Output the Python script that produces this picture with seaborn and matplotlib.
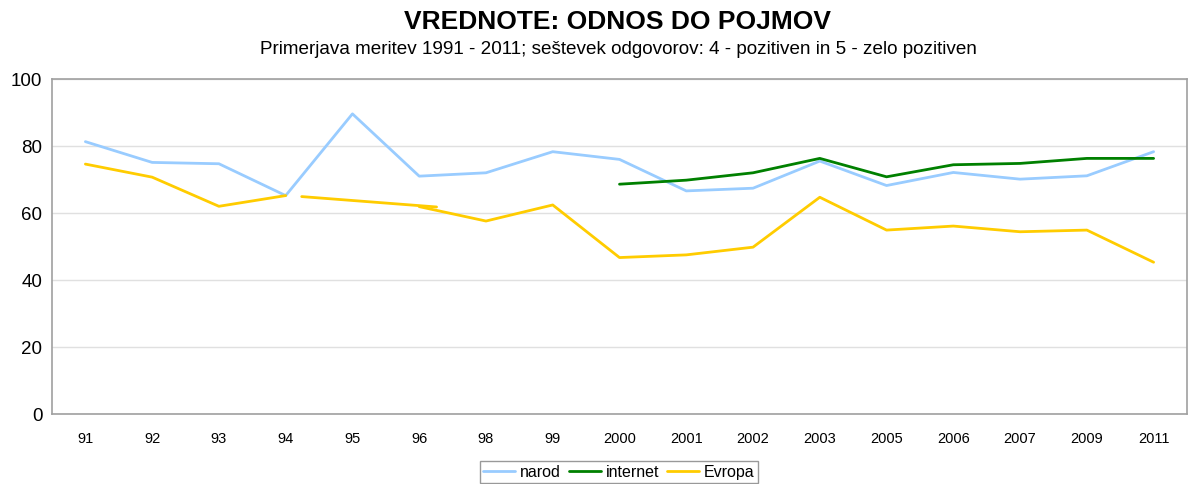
import numpy as np
import pandas as pd
import matplotlib
matplotlib.use("Agg")
import matplotlib.pyplot as plt
import seaborn as sns
from matplotlib.lines import Line2D

# data
years = ["91", "92", "93", "94", "95", "96", "98", "99", "2000", "2001",
         "2002", "2003", "2005", "2006", "2007", "2009", "2011"]
narod = [81.3, 75.1, 74.7, 65.2, 89.6, 71.0, 72.0, 78.3, 76.0, 66.6,
         67.4, 75.5, 68.2, 72.1, 70.1, 71.1, 78.3]
internet = [np.nan] * 8 + [68.6, 69.8, 72.0, 76.3, 70.8, 74.4, 74.8, 76.3, 76.3]
evropa = [74.6, 70.7, 62.0, 65.2, np.nan, 61.9, 57.6, 62.4, 46.7, 47.5,
          49.8, 64.7, 54.9, 56.1, 54.4, 54.9, 45.3]
# loose drawn segment over the 95 gap
bridge_x = [3.24, 5.26]
bridge_y = [64.9, 61.8]

series = {"narod": (narod, "#99ccff"),
          "internet": (internet, "#008000"),
          "Evropa": (evropa, "#ffcc00")}

sns.set_theme(style="white")
plt.rcParams["font.family"] = ["Liberation Sans", "DejaVu Sans"]
plt.rcParams["text.color"] = "black"
plt.rcParams["xtick.color"] = "black"
plt.rcParams["ytick.color"] = "black"

fig = plt.figure(figsize=(11.89, 4.85), dpi=100)
ax = fig.add_axes([52 / 1189, 1 - 415 / 485, 1135 / 1189, 335 / 485])

pos = np.arange(len(years))
lw = 2.0
for name, (vals, col) in series.items():
    df = pd.DataFrame({"x": pos, "y": vals})
    # split on gaps so missing years break the line
    df["seg"] = df["y"].isna().cumsum()
    for _, part in df.dropna().groupby("seg"):
        sns.lineplot(data=part, x="x", y="y", color=col, lw=lw, ax=ax,
                     estimator=None, sort=False)

sns.lineplot(x=bridge_x, y=bridge_y, color="#ffcc00", lw=lw, ax=ax,
             estimator=None)

ax.set_xlim(-0.5, len(years) - 0.5)
ax.set_ylim(0, 100)
ax.set_yticks([0, 20, 40, 60, 80, 100])
ax.yaxis.grid(True, color="#e0e0e0", lw=1)
ax.set_axisbelow(True)

ax.set_xticks(np.arange(len(years) + 1) - 0.5)
ax.set_xticklabels([])
ax.set_xticks(pos, minor=True)
ax.set_xticklabels(years, minor=True)
ax.tick_params(axis="x", which="major", direction="out", length=5,
               color="#a0a0a0", width=1)
ax.tick_params(axis="x", which="minor", length=0, pad=12, labelsize=10.5,
               labelcolor="black")
ax.tick_params(axis="y", direction="out", length=5, color="#a0a0a0",
               width=1, labelsize=13.5, pad=2, labelcolor="black")
ax.set_xlabel("")
ax.set_ylabel("")
for s in ax.spines.values():
    s.set_color("#a0a0a0")
    s.set_linewidth(1.2)

fig.text(617 / 1189, 1 - 22 / 485, "VREDNOTE: ODNOS DO POJMOV", ha="center",
         va="center", fontsize=19, fontweight="bold", color="black")
fig.text(618 / 1189, 1 - 50 / 485,
         "Primerjava meritev 1991 - 2011; seštevek odgovorov: 4 - pozitiven in 5 - zelo pozitiven",
         ha="center", va="center", fontsize=13.6, color="black")

handles = [Line2D([], [], color=c, lw=lw) for _, c in series.values()]
leg = fig.legend(handles, list(series.keys()), loc="center",
                 bbox_to_anchor=(619 / 1189, 1 - 473 / 485), ncol=3,
                 frameon=True, fancybox=False, fontsize=11.5,
                 handlelength=2.0, handletextpad=0.3, columnspacing=0.5,
                 borderpad=0.2)
leg.get_frame().set_edgecolor("#808080")
leg.get_frame().set_linewidth(1)

fig.savefig("out.png", dpi=100)
